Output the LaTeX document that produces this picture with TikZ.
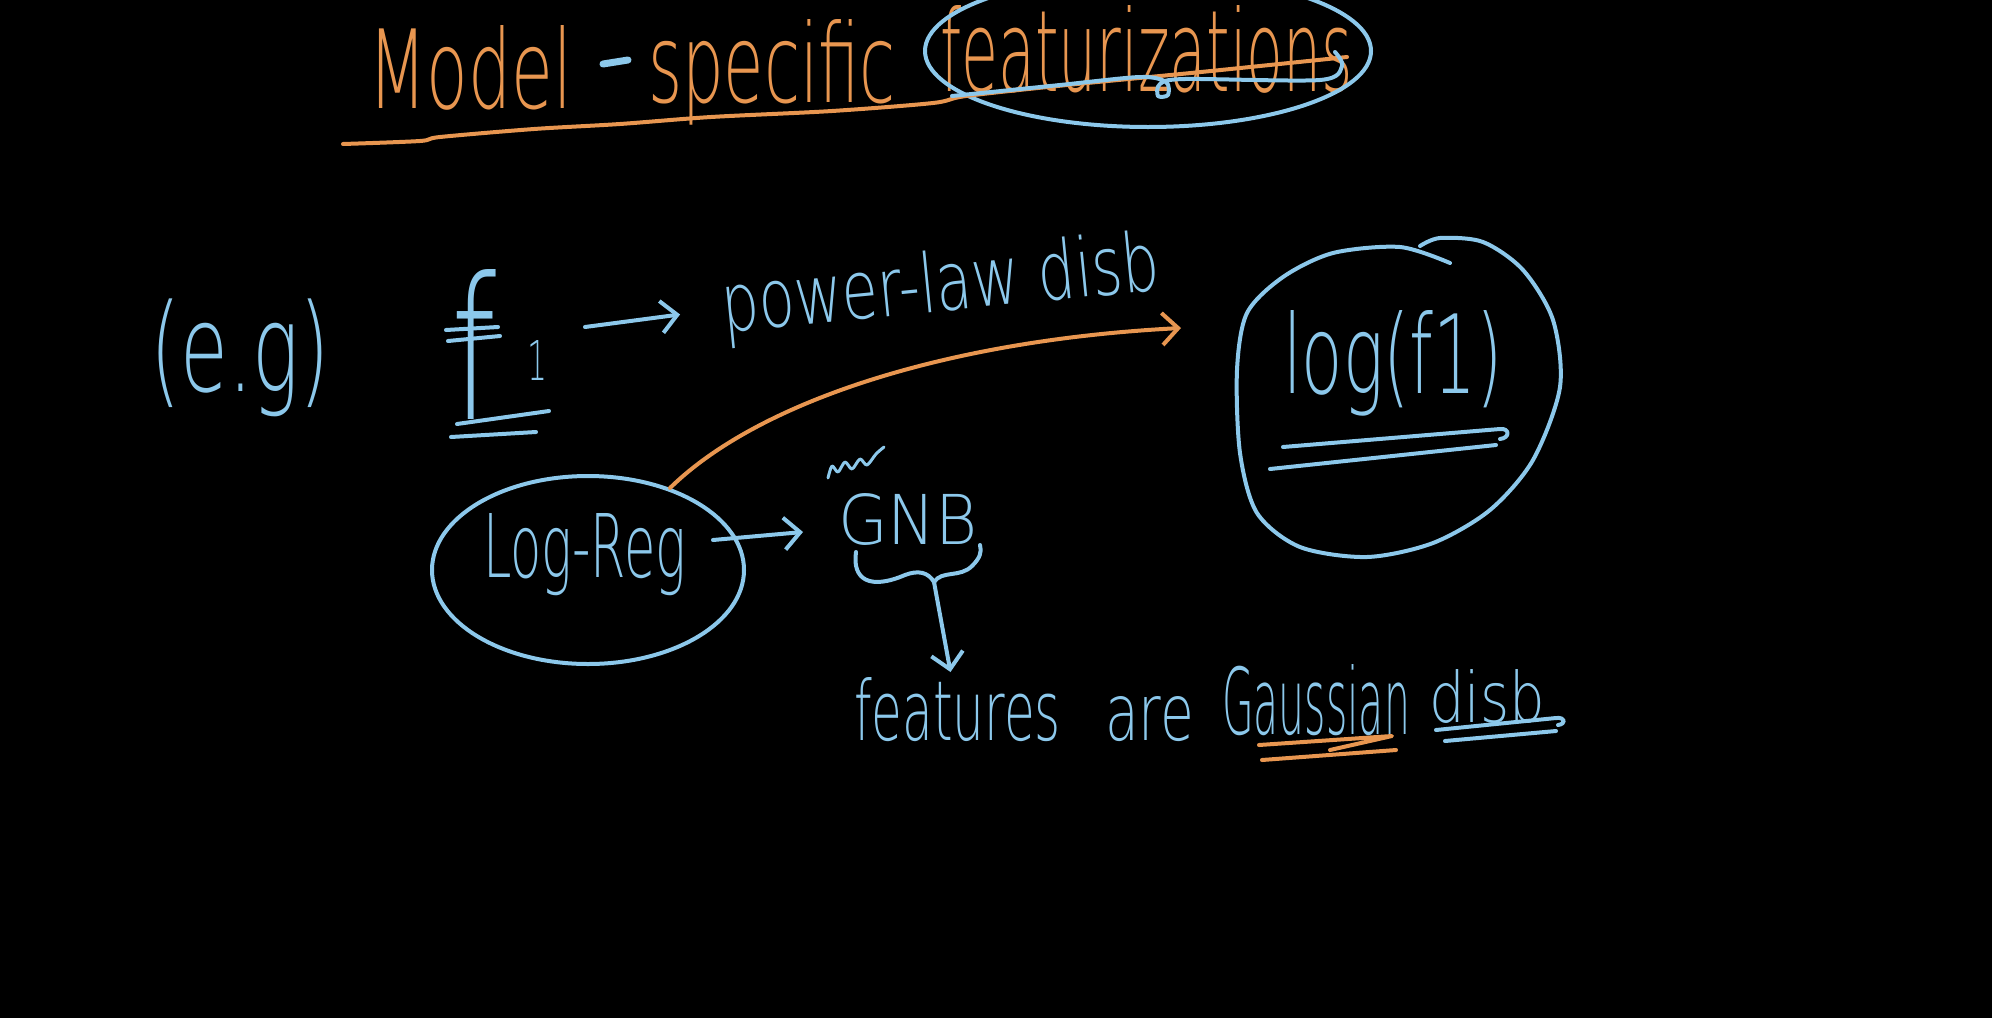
\documentclass[tikz,border=0pt]{standalone}
\usepackage{fontspec}
\usetikzlibrary{arrows.meta,shapes.geometric}
\IfFontExistsTF{DejaVu Sans ExtraLight}{\newfontfamily\hand{DejaVu Sans ExtraLight}}{\newfontfamily\hand{DejaVu Sans}}
\definecolor{hblue}{RGB}{140,200,235}
\definecolor{horange}{RGB}{232,150,80}
\newcommand\hw[3]{\resizebox{#1pt}{#2pt}{#3}}
\tikzset{
  bl/.style={draw=hblue, line width=4pt, line cap=round, line join=round},
  or/.style={draw=horange, line width=4pt, line cap=round, line join=round},
  txt/.style={inner sep=0pt, outer sep=0pt, font=\hand\fontsize{40}{40}\selectfont},
  btxt/.style={txt, text=hblue},
  otxt/.style={txt, text=horange},
  arr/.style={-{Straight Barb[length=16pt,width=32pt]}},
  oval/.style={draw=hblue, line width=4pt, ellipse, inner sep=0pt}
}
\begin{document}
\begin{tikzpicture}[x=1pt,y=-1pt]
\fill[black] (0,0) rectangle (1992,1018);
\useasboundingbox (0,0) rectangle (1992,1018);
\begin{scope}
\clip (0,0) rectangle (1992,1018);
% title
\node[otxt,anchor=base west] (model) at (368,108) {\hw{204}{83}{Model}};
\draw[bl, line width=7pt] (603,64) -- (628,60);
\node[otxt,anchor=base west] (spec) at (648,102) {\hw{248}{83}{specific}};
\node[otxt,anchor=base west] (feat) at (940,91) {\hw{413}{86}{featurizations}};
\node[oval, minimum width=446pt, minimum height=152pt] (featell) at (1148,51) {};
\draw[or] plot[smooth] coordinates {(343,144) (420,141) (440,137) (534,129) (620,124) (711,117) (832,111) (933,103) (966,96) (1067,85) (1201,72) (1347,57)};
\draw[bl] plot[smooth] coordinates {(952,96) (1060,85) (1140,77) (1166,82) (1168,95) (1158,96) (1160,84) (1185,79) (1320,80) (1342,66) (1335,52)};
\end{scope}
% e.g.
\node[btxt,anchor=north west] (eg) at (150,299) {\resizebox*{180pt}{118pt}{(e.g)}};
% f1
\node[btxt,anchor=base west] (f) at (451,419) {\hw{45}{150}{f}};
\node[btxt,anchor=base west] (one) at (527,380) {\hw{20}{40}{1}};
\draw[bl] (446,330) -- (498,327);
\draw[bl] (448,341) -- (500,336);
\draw[bl] (457,424) -- (549,411);
\draw[bl] (451,437) -- (536,432);
% power-law
\node[btxt,anchor=base,rotate=5.6] (pw) at (943,311) {\hw{440}{62}{power-law disb}};
\draw[bl,arr] ([shift={(38,-33)}]one.east) -- ([shift={(-44,-18)}]pw.base west);
% log(f1) blob
\node[btxt,anchor=base west] (logf) at (1283,393) {\hw{220}{83}{log(f1)}};
\draw[bl] plot[smooth] coordinates {(1450,263) (1400,247) (1333,253) (1283,277) (1247,313) (1237,370) (1240,453) (1257,513) (1300,547) (1367,557) (1433,543) (1490,510) (1533,460) (1560,387) (1553,320) (1523,270) (1483,242) (1440,238) (1420,246)};
\draw[bl] (1283,447) -- (1500,429) .. controls (1510,428) and (1510,438) .. (1500,439);
\draw[bl] (1270,469) -- (1496,445);
\coordinate (tipo) at (1181,328);
% Log-Reg
\node[oval, minimum width=312pt, minimum height=188pt] (lrell) at (588,570) {};
\node[btxt,anchor=base west] (lrt) at (483,577) {\hw{203}{64}{Log-Reg}};
\draw[or,arr] (lrell.45) .. controls (760,400) and (950,340) .. (tipo);
% GNB
\node[btxt,anchor=base west] (gnb) at (838,544) {\hw{140}{51}{GNB}};
\draw[bl,arr] ([shift={(-33,-30)}]lrell.east) -- ([shift={(-35,13)}]gnb.west);
\draw[bl,line width=3pt] plot[smooth] coordinates {(828,478) (832,466) (838,472) (845,462) (852,469) (860,459) (867,465) (876,454) (884,447)};
\coordinate (cusp) at (934,582);
\draw[bl] (856,552) .. controls (852,580) and (870,590) .. (905,575) .. controls (918,570) and (928,572) .. (cusp);
\draw[bl] (cusp) .. controls (942,570) and (960,578) .. (972,566) .. controls (980,558) and (982,552) .. (980,545);
% features row
\node[btxt,anchor=base west] (ftr) at (854,740) {\hw{207}{63}{features}};
\node[btxt,anchor=base west] (are) at (1105,740) {\hw{89}{44}{are}};
\node[btxt,anchor=base west] (gau) at (1222,734) {\hw{188}{70}{Gaussian}};
\node[btxt,anchor=base west] (disb) at (1429,722) {\hw{116}{53}{disb}};
\draw[bl,arr] (cusp) -- ([shift={(-7,-5)}]ftr.north);
\draw[or] (1259,745) -- (1392,736) -- (1330,750);
\draw[or] (1262,760) -- (1396,750);
\draw[bl] (1436,730) -- (1556,718) .. controls (1566,717) and (1566,724) .. (1558,725);
\draw[bl] (1445,741) -- (1556,731);
\end{tikzpicture}
\end{document}
